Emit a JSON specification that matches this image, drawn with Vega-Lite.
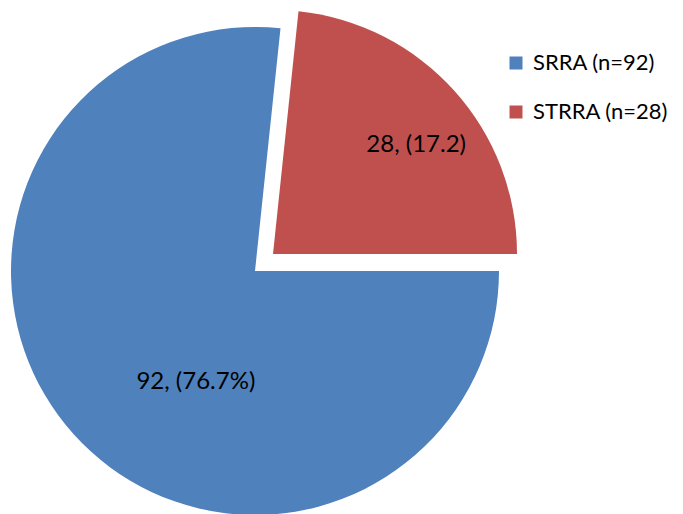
{
  "$schema": "https://vega.github.io/schema/vega-lite/v6.json",
  "width": 490,
  "height": 486,
  "autosize": {"type": "none"},
  "padding": {"left": 10, "top": 28, "right": 183, "bottom": 0},
  "background": "white",
  "config": {"view": {"stroke": null}},
  "data": {
    "values": [
      {"group": "SRRA (n=92)", "count": 92, "label": "92, (76.7%)"},
      {"group": "STRRA (n=28)", "count": 28, "label": "28, (17.2)"}
    ]
  },
  "transform": [
    {"stack": "count", "groupby": [], "sort": [{"field": "group", "order": "descending"}], "as": ["v0", "v1"]}
  ],
  "layer": [
    {
      "transform": [{"filter": "datum.group === 'SRRA (n=92)'"}],
      "mark": {"type": "arc", "radius": 244},
      "encoding": {
        "theta": {"field": "v0", "type": "quantitative", "scale": {"domain": [0, 120], "range": [0.1047, 6.3879]}},
        "theta2": {"field": "v1"},
        "color": {
          "field": "group", "type": "nominal",
          "scale": {"domain": ["SRRA (n=92)", "STRRA (n=28)"], "range": ["#4F81BD", "#C0504D"]},
          "legend": {
            "title": null, "orient": "none", "legendX": 495, "legendY": 24, "padding": 0,
            "symbolType": "square", "symbolSize": 169, "symbolStrokeWidth": 0, "symbolOpacity": 1,
            "labelFontSize": 22, "labelFont": "Lato", "labelColor": "black",
            "rowPadding": 27, "labelOffset": 6
          }
        }
      }
    },
    {
      "transform": [{"filter": "datum.group === 'STRRA (n=28)'"}],
      "mark": {"type": "arc", "radius": 244, "xOffset": 18, "yOffset": -17},
      "encoding": {
        "theta": {"field": "v0", "type": "quantitative"},
        "theta2": {"field": "v1"},
        "color": {"field": "group", "type": "nominal"}
      }
    },
    {
      "transform": [{"filter": "datum.group === 'SRRA (n=92)'"}],
      "mark": {"type": "text", "radius": 126, "thetaOffset": -2.7576, "fontSize": 24, "font": "Lato", "color": "black", "align": "center", "baseline": "middle"},
      "encoding": {
        "theta": {"field": "v1", "type": "quantitative"},
        "text": {"field": "label"}
      }
    },
    {
      "transform": [{"filter": "datum.group === 'STRRA (n=28)'"}],
      "mark": {"type": "text", "radius": 180, "thetaOffset": -0.651, "xOffset": 18, "yOffset": -17, "fontSize": 24, "font": "Lato", "color": "black", "align": "center", "baseline": "middle"},
      "encoding": {
        "theta": {"field": "v1", "type": "quantitative"},
        "text": {"field": "label"}
      }
    }
  ]
}
